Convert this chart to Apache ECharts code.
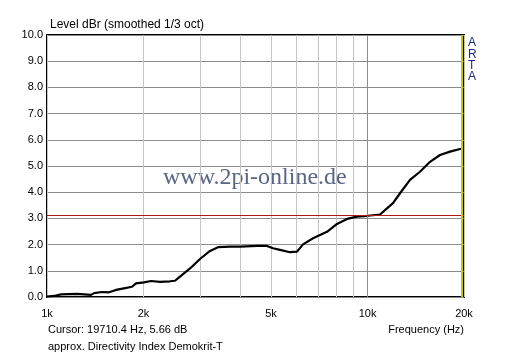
<!DOCTYPE html>
<html>
<head>
<meta charset="utf-8">
<script src="https://cdn.jsdelivr.net/npm/echarts@6/dist/echarts.min.js"></script>
<style>
html,body{margin:0;padding:0;background:#fff;}
#chart{width:512px;height:358px;}
</style>
</head>
<body>
<div id="chart"></div>
<script>
// Frequency (Hz) and level (dBr)
var freqs = [1000, 1052, 1106, 1240, 1372, 1402, 1484, 1561, 1642, 1739, 1842, 1896, 2007, 2111, 2252, 2420, 2508, 2600, 2794, 3002, 3226, 3416, 3724, 4002, 4521, 4858, 5072, 5333, 5731, 6026, 6292, 6761, 7475, 8030, 8630, 9272, 10040, 10940, 11500, 12010, 12630, 13570, 14580, 15670, 16840, 18090, 19440, 20000];
var levels = [0.02, 0.04, 0.10, 0.12, 0.08, 0.15, 0.19, 0.18, 0.27, 0.33, 0.39, 0.52, 0.56, 0.61, 0.58, 0.60, 0.62, 0.78, 1.09, 1.45, 1.76, 1.90, 1.92, 1.92, 1.95, 1.95, 1.86, 1.80, 1.71, 1.73, 2.01, 2.24, 2.49, 2.79, 2.98, 3.07, 3.10, 3.15, 3.38, 3.58, 3.96, 4.47, 4.78, 5.16, 5.42, 5.55, 5.65, 5.67];
var gridFreqs = [1000, 2000, 3000, 4000, 5000, 6000, 7000, 8000, 9000, 10000, 20000];
var xLabelFreqs = [1000, 2000, 5000, 10000, 20000];
var yMin = 0, yMax = 10, yStep = 1;
var refLevel = 3.13;
var cursorFreq = 19710.4;

var chart = echarts.init(document.getElementById('chart'));
var font = 'Liberation Sans, Arial, sans-serif';
chart.setOption({
  backgroundColor: '#ffffff',
  animation: false,
  grid: {left: 47, right: 48, top: 35, bottom: 61, show: true, borderColor: '#000', borderWidth: 2, backgroundColor: 'transparent'},
  xAxis: {
    type: 'log', logBase: 10, min: 1000, max: 20000,
    axisLine: {show: false},
    axisTick: {show: false, customValues: gridFreqs},
    axisLabel: {customValues: xLabelFreqs, formatter: function (v) { return (v / 1000) + 'k'; }, color: '#000', fontSize: 11, fontFamily: font, margin: 11},
    splitLine: {show: true, lineStyle: {color: '#c4c4c4', width: 1}}
  },
  yAxis: {
    type: 'value', min: yMin, max: yMax, interval: yStep,
    axisLine: {show: false}, axisTick: {show: false},
    axisLabel: {formatter: function (v) { return v.toFixed(1); }, color: '#000', fontSize: 11, fontFamily: font, margin: 4},
    splitLine: {show: true, lineStyle: {color: '#8c8c8c', width: 1}}
  },
  series: [{
    type: 'line',
    data: freqs.map(function (f, i) { return [f, levels[i]]; }),
    showSymbol: false, symbol: 'none',
    lineStyle: {color: '#000', width: 2.2},
    markLine: {
      silent: true, symbol: 'none', label: {show: false},
      data: [
        {xAxis: 10000, lineStyle: {color: '#8c8c8c', width: 1, type: 'solid'}},
        {yAxis: refLevel, lineStyle: {color: '#b01818', width: 1, type: 'solid'}},
        {xAxis: cursorFreq, lineStyle: {color: '#c8c800', width: 2, type: 'solid'}}
      ]
    }
  }],
  graphic: [
    {type: 'text', left: 50, top: 19, style: {text: 'Level dBr (smoothed 1/3 oct)', fill: '#000', font: '12px ' + font}},
    {type: 'text', left: 468, top: 37, style: {text: 'A\nR\nT\nA', fill: '#1c2a80', font: '12px ' + font, lineHeight: 11.3, align: 'center'}},
    {type: 'text', left: 48, top: 324, style: {text: 'Cursor: 19710.4 Hz, 5.66 dB', fill: '#000', font: '11px ' + font}},
    {type: 'text', left: 48, top: 341, style: {text: 'approx. Directivity Index Demokrit-T', fill: '#000', font: '11px ' + font}},
    {type: 'text', right: 48, top: 324, style: {text: 'Frequency (Hz)', fill: '#000', font: '11px ' + font}},
    {type: 'text', left: 163, top: 166, style: {text: 'www.2pi-online.de', fill: '#5a6585', font: '24px Liberation Serif, Times New Roman, serif'}}
  ]
});
</script>
</body>
</html>
